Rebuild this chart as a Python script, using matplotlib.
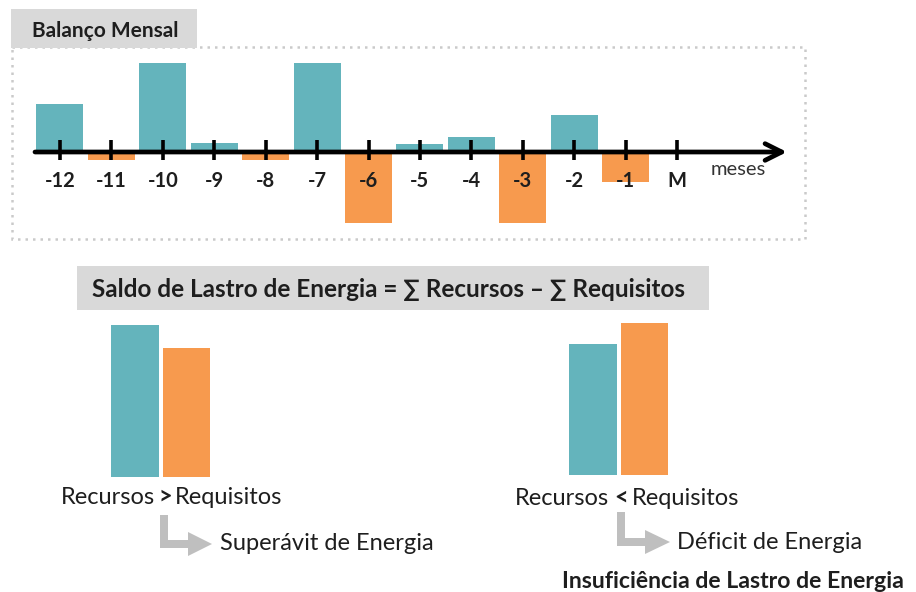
import matplotlib
matplotlib.use('Agg')
import matplotlib.pyplot as plt
from matplotlib.patches import Rectangle, Polygon

plt.rcParams['font.family'] = ['Lato', 'DejaVu Sans']

TEAL = '#64B4BC'
ORANGE = '#F79A4E'
GREY_BOX = '#D9D9D9'
GREY_ARROW = '#BFBFBF'
INK = '#1E1E1E'

W, H = 916, 592

# ── data ─────────────────────────────────────────────────────────────────────
months = [-12, -11, -10, -9, -8, -7, -6, -5, -4, -3, -2, -1, 0]
month_labels = ['-12', '-11', '-10', '-9', '-8', '-7', '-6', '-5', '-4',
                '-3', '-2', '-1', 'M']
balance = [48, -8, 89, 9, -8, 89, -71, 8, 15, -71, 37, -30]   # last 12 months

pair_cases = ['Recursos > Requisitos', 'Recursos < Requisitos']
recursos = [152, 131]
requisitos = [129, 152]


def px_axes(x0, y0, x1, y1):
    # axes placed by pixel box (top-left origin)
    return fig.add_axes([x0 / W, 1 - y1 / H, (x1 - x0) / W, (y1 - y0) / H])


fig = plt.figure(figsize=(W / 100, H / 100), dpi=100)
bg = fig.add_axes([0, 0, 1, 1])
bg.set_xlim(0, W)
bg.set_ylim(H, 0)
bg.axis('off')

# ── top panel: monthly balance ───────────────────────────────────────────────
bg.add_patch(Rectangle((12, 47), 793, 192, fill=False, edgecolor='#CACACA',
                       lw=1.8, linestyle=(0, (1, 2)), zorder=1))
bg.add_patch(Rectangle((11, 9), 186, 39, facecolor=GREY_BOX, edgecolor='none',
                       zorder=2))
bg.text(32, 37, 'Balanço Mensal', fontsize=15, fontweight='bold',
        color=INK, va='baseline', zorder=3)

step = 51.42                     # pixels per month
base_y = 152
ax = px_axes(30, 55, 795, 235)
ax.set_xlim(-12 - 30 / step, (795 - 677) / step)
ax.set_ylim(-(235 - base_y), base_y - 55)
ax.patch.set_alpha(0)
ax.axis('off')

colors = [TEAL if v > 0 else ORANGE for v in balance]
ax.bar(months[:-1], balance, width=47 / step, color=colors, zorder=2)
ax.annotate('', xy=((787 - 677) / step, 0), xytext=(-12 - 25 / step, 0),
            arrowprops=dict(arrowstyle='->,head_length=1.2,head_width=0.6',
                            lw=3.4, color='black', shrinkA=0, shrinkB=0),
            zorder=4)
ax.vlines(months, -8, 12, color='black', lw=2.6, zorder=4)
for m, lab in zip(months, month_labels):
    ax.text(m, base_y - 187, lab, ha='center', va='baseline', fontsize=14.5,
            fontweight='bold', color=INK, zorder=5)
ax.text((738 - 677) / step, base_y - 175, 'meses', ha='center', va='baseline',
        fontsize=14.5, color='#333333')

# ── formula banner ───────────────────────────────────────────────────────────
bg.add_patch(Rectangle((77, 266), 632, 44, facecolor=GREY_BOX, edgecolor='none'))
bg.text(389, 297, 'Saldo de Lastro de Energia = ∑ Recursos – ∑ Requisitos',
        ha='center', va='baseline', fontsize=17.5, fontweight='bold', color=INK)

# ── bottom pairs ─────────────────────────────────────────────────────────────
pair_boxes = [(104, 315, 217.4, 477), (562, 313, 675.4, 475)]
for box, r, q in zip(pair_boxes, recursos, requisitos):
    a = px_axes(*box)
    a.bar([0, 1], [r, q], width=0.93, color=[TEAL, ORANGE])
    a.set_xlim(-0.6, 1.6)
    a.set_ylim(0, 162)
    a.patch.set_alpha(0)
    a.axis('off')

# relation labels (the sign in bold)
label_pos = [(155, 165, 175, 504), (609, 621, 632, 505)]
for case, (xl, xs, xr, yb) in zip(pair_cases, label_pos):
    left, sign, right = case.split(' ')
    bg.text(xl, yb, left, ha='right', va='baseline', fontsize=17, color=INK)
    bg.text(xs, yb, sign, ha='center', va='baseline', fontsize=17,
            fontweight='bold', color=INK)
    bg.text(xr, yb, right, ha='left', va='baseline', fontsize=17, color=INK)


def l_arrow(x, y_top, y_mid, x_base, x_tip):
    t = 4
    pts = [(x - t, y_top), (x + t, y_top), (x + t, y_mid - t), (x_base, y_mid - t),
           (x_base, y_mid - 12), (x_tip, y_mid), (x_base, y_mid + 12),
           (x_base, y_mid + t), (x - t, y_mid + t)]
    bg.add_patch(Polygon(pts, closed=True, facecolor=GREY_ARROW, edgecolor='none'))


l_arrow(164, 515, 544, 188, 212)
l_arrow(621, 512, 542, 645, 670)
bg.text(220, 550, 'Superávit de Energia', va='baseline', fontsize=17, color=INK)
bg.text(677, 549, 'Déficit de Energia', va='baseline', fontsize=17, color=INK)
bg.text(562, 588, 'Insuficiência de Lastro de Energia', va='baseline',
        fontsize=16.6, fontweight='bold', color=INK)

fig.savefig('out.png', dpi=100)
